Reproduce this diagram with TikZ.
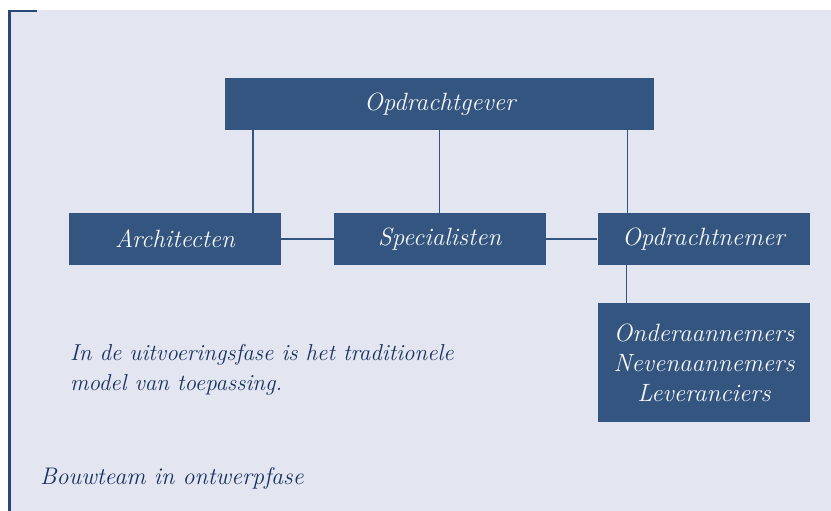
\documentclass[tikz,border=0pt]{standalone}
\usepackage{tikz}
\definecolor{boxblue}{HTML}{34557F}
\definecolor{textblue}{HTML}{18315F}
\definecolor{paneel}{HTML}{E3E6F0}
\definecolor{randblauw}{HTML}{2A4877}
\begin{document}
\begin{tikzpicture}[x=1pt,y=-1pt, % pixel grid, y downwards
	box/.style={rectangle,fill=boxblue,text=white!95!boxblue,inner sep=0pt,
		minimum width=212pt,minimum height=52pt,align=center,
		font=\itshape\fontsize{25}{30}\selectfont},
	note/.style={text=textblue,anchor=west,align=left,inner sep=0pt,
		font=\itshape\fontsize{23}{30}\selectfont},
	link/.style={draw=boxblue,line width=1.3pt}]
	\useasboundingbox (0,0) rectangle (831,511);
	\fill[paneel] (8,10) rectangle (831,511);
	\draw[randblauw,line width=2.5pt] (9.25,511) -- (9.25,11.25) -- (37,11.25);
	% organisation
	\node[box,minimum width=429pt] (gever) at (439.75,104) {Opdrachtgever};
	\node[box] (arch) at (175,239) {Architecten};
	\node[box] (spec) at (439.75,239) {Specialisten};
	\node[box] (nemer) at (703.5,239) {Opdrachtnemer};
	\node[box,minimum height=119pt] (onder) at (704,362.5) {Onderaannemers\\Nevenaannemers\\Leveranciers};
	\draw[link] ([xshift=28pt]gever.south west) -- ([xshift=28pt]gever.south west |- arch.north);
	\draw[link] (gever.south) -- (spec.north);
	\draw[link] ([xshift=-27pt]gever.south east) -- ([xshift=-27pt]gever.south east |- nemer.north);
	\draw[link] (arch) -- (spec);
	\draw[link] (spec) -- (nemer);
	\draw[link] ([xshift=29pt]nemer.south west) -- ([xshift=29pt]nemer.south west |- onder.north);
	% captions
	\node[note] (uitleg) at (70,370) {In de uitvoeringsfase is het traditionele\\model van toepassing.};
	\node[note,font=\itshape\fontsize{24}{30}\selectfont] (titel) at (40,478) {Bouwteam in ontwerpfase};
\end{tikzpicture}
\end{document}
